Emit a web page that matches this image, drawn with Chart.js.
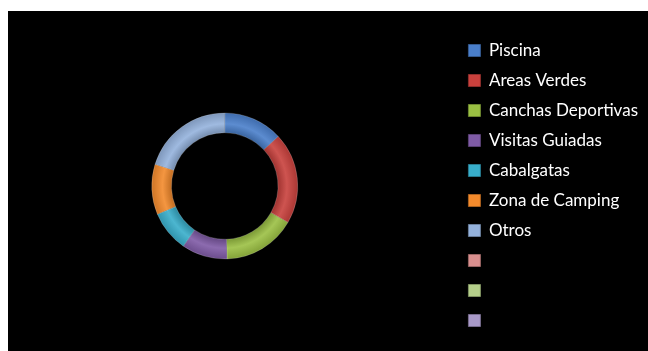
<!DOCTYPE html>
<html>
<head>
<meta charset="utf-8">
<script src="https://cdn.jsdelivr.net/npm/chart.js@4"></script>
<style>
  html, body { margin: 0; padding: 0; background: #fff; }
  #wrap { position: absolute; left: 8px; top: 11px; width: 640px; height: 340px; background: #000; overflow: hidden; }
  #donutChart { position: absolute; left: -14px; top: 0; }
</style>
</head>
<body>
<div id="wrap"><canvas id="donutChart" width="654" height="340"></canvas></div>
<script>
const categories = ['Piscina', 'Areas Verdes', 'Canchas Deportivas', 'Visitas Guiadas', 'Cabalgatas', 'Zona de Camping', 'Otros', '', '', ''];
const values = [13, 20, 16, 10, 9, 11, 20, 0, 0, 0];
const colors = ['#4A7FCB', '#C9413D', '#9BC043', '#7F5BA6', '#38AECB', '#F38A2C', '#94B2DC', '#D98F8E', '#B5CF8A', '#A899C8'];

function shade(hex, f) {
  const n = parseInt(hex.slice(1), 16);
  let r = n >> 16, g = (n >> 8) & 255, b = n & 255;
  const t = f < 0 ? 0 : 255, p = Math.abs(f);
  r = Math.round((t - r) * p + r); g = Math.round((t - g) * p + g); b = Math.round((t - b) * p + b);
  return `rgb(${r},${g},${b})`;
}

// bevel look: dark at the ring edges, lighter in the middle
function ringFill(context) {
  const chart = context.chart;
  const base = colors[context.dataIndex];
  const ctrl = chart.getDatasetMeta(0).controller;
  const area = chart.chartArea;
  if (!area || !ctrl || !ctrl.outerRadius) return base;
  const cx = (area.left + area.right) / 2, cy = (area.top + area.bottom) / 2;
  const g = chart.ctx.createRadialGradient(cx, cy, ctrl.innerRadius, cx, cy, ctrl.outerRadius);
  g.addColorStop(0, shade(base, -0.2));
  g.addColorStop(0.45, shade(base, 0.1));
  g.addColorStop(1, shade(base, -0.15));
  return g;
}

const ctx = document.getElementById('donutChart').getContext('2d');

new Chart(ctx, {
  type: 'doughnut',
  data: {
    labels: categories,
    datasets: [{
      data: values,
      backgroundColor: ringFill,
      borderColor: 'rgba(255,255,255,0.3)',
      borderWidth: 0.6,
      radius: 73
    }]
  },
  options: {
    responsive: false,
    animation: false,
    cutout: '73%',
    layout: { padding: { left: 0, top: 18, right: 0, bottom: 8 } },
    plugins: {
      tooltip: { enabled: false },
      legend: {
        position: 'right',
        align: 'start',
        labels: {
          color: '#fff',
          font: { family: 'Lato', size: 17 },
          boxWidth: 12,
          boxHeight: 12,
          padding: 13,
          generateLabels(chart) {
            return categories.map((c, i) => ({
              text: c,
              fillStyle: colors[i],
              strokeStyle: shade(colors[i], -0.3),
              lineWidth: 1,
              fontColor: '#fff',
              hidden: false,
              index: i
            }));
          }
        }
      }
    }
  }
});
</script>
</body>
</html>
